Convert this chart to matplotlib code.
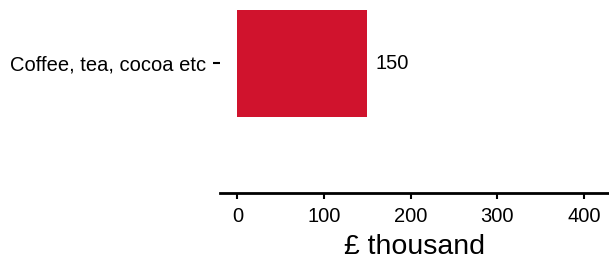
import matplotlib
matplotlib.use("Agg")
import matplotlib.pyplot as plt

categories = ["Coffee, tea, cocoa etc"]
values = [150]
bar_color = "#D0132D"

plt.rcParams["font.family"] = ["Liberation Sans", "DejaVu Sans"]

fig = plt.figure(figsize=(6.09, 2.57), dpi=100)
ax = fig.add_axes([220 / 609, 1 - 193 / 257, 1 - 220 / 609, 193 / 257])

ypos = list(range(len(categories)))
ax.barh(ypos, values, height=0.9, color=bar_color)
for y, v in zip(ypos, values):
    ax.text(v + 10, y, f"{v}", va="center", ha="left", fontsize=14.5)

ax.set_yticks(ypos)
ax.set_yticklabels(categories, fontsize=14.5)
ax.set_xlim(-20, 429)
ax.set_ylim(-1.09, 0.534)
ax.set_xticks([0, 100, 200, 300, 400])
ax.tick_params(axis="x", labelsize=14.5, length=4, width=1.5, pad=6)
ax.tick_params(axis="y", length=5, width=1.5, pad=5)
ax.set_xlabel("£ thousand", fontsize=20.5, labelpad=6)

for s in ["top", "right", "left"]:
    ax.spines[s].set_visible(False)
ax.spines["bottom"].set_linewidth(2)

fig.savefig("out.png", dpi=100)
